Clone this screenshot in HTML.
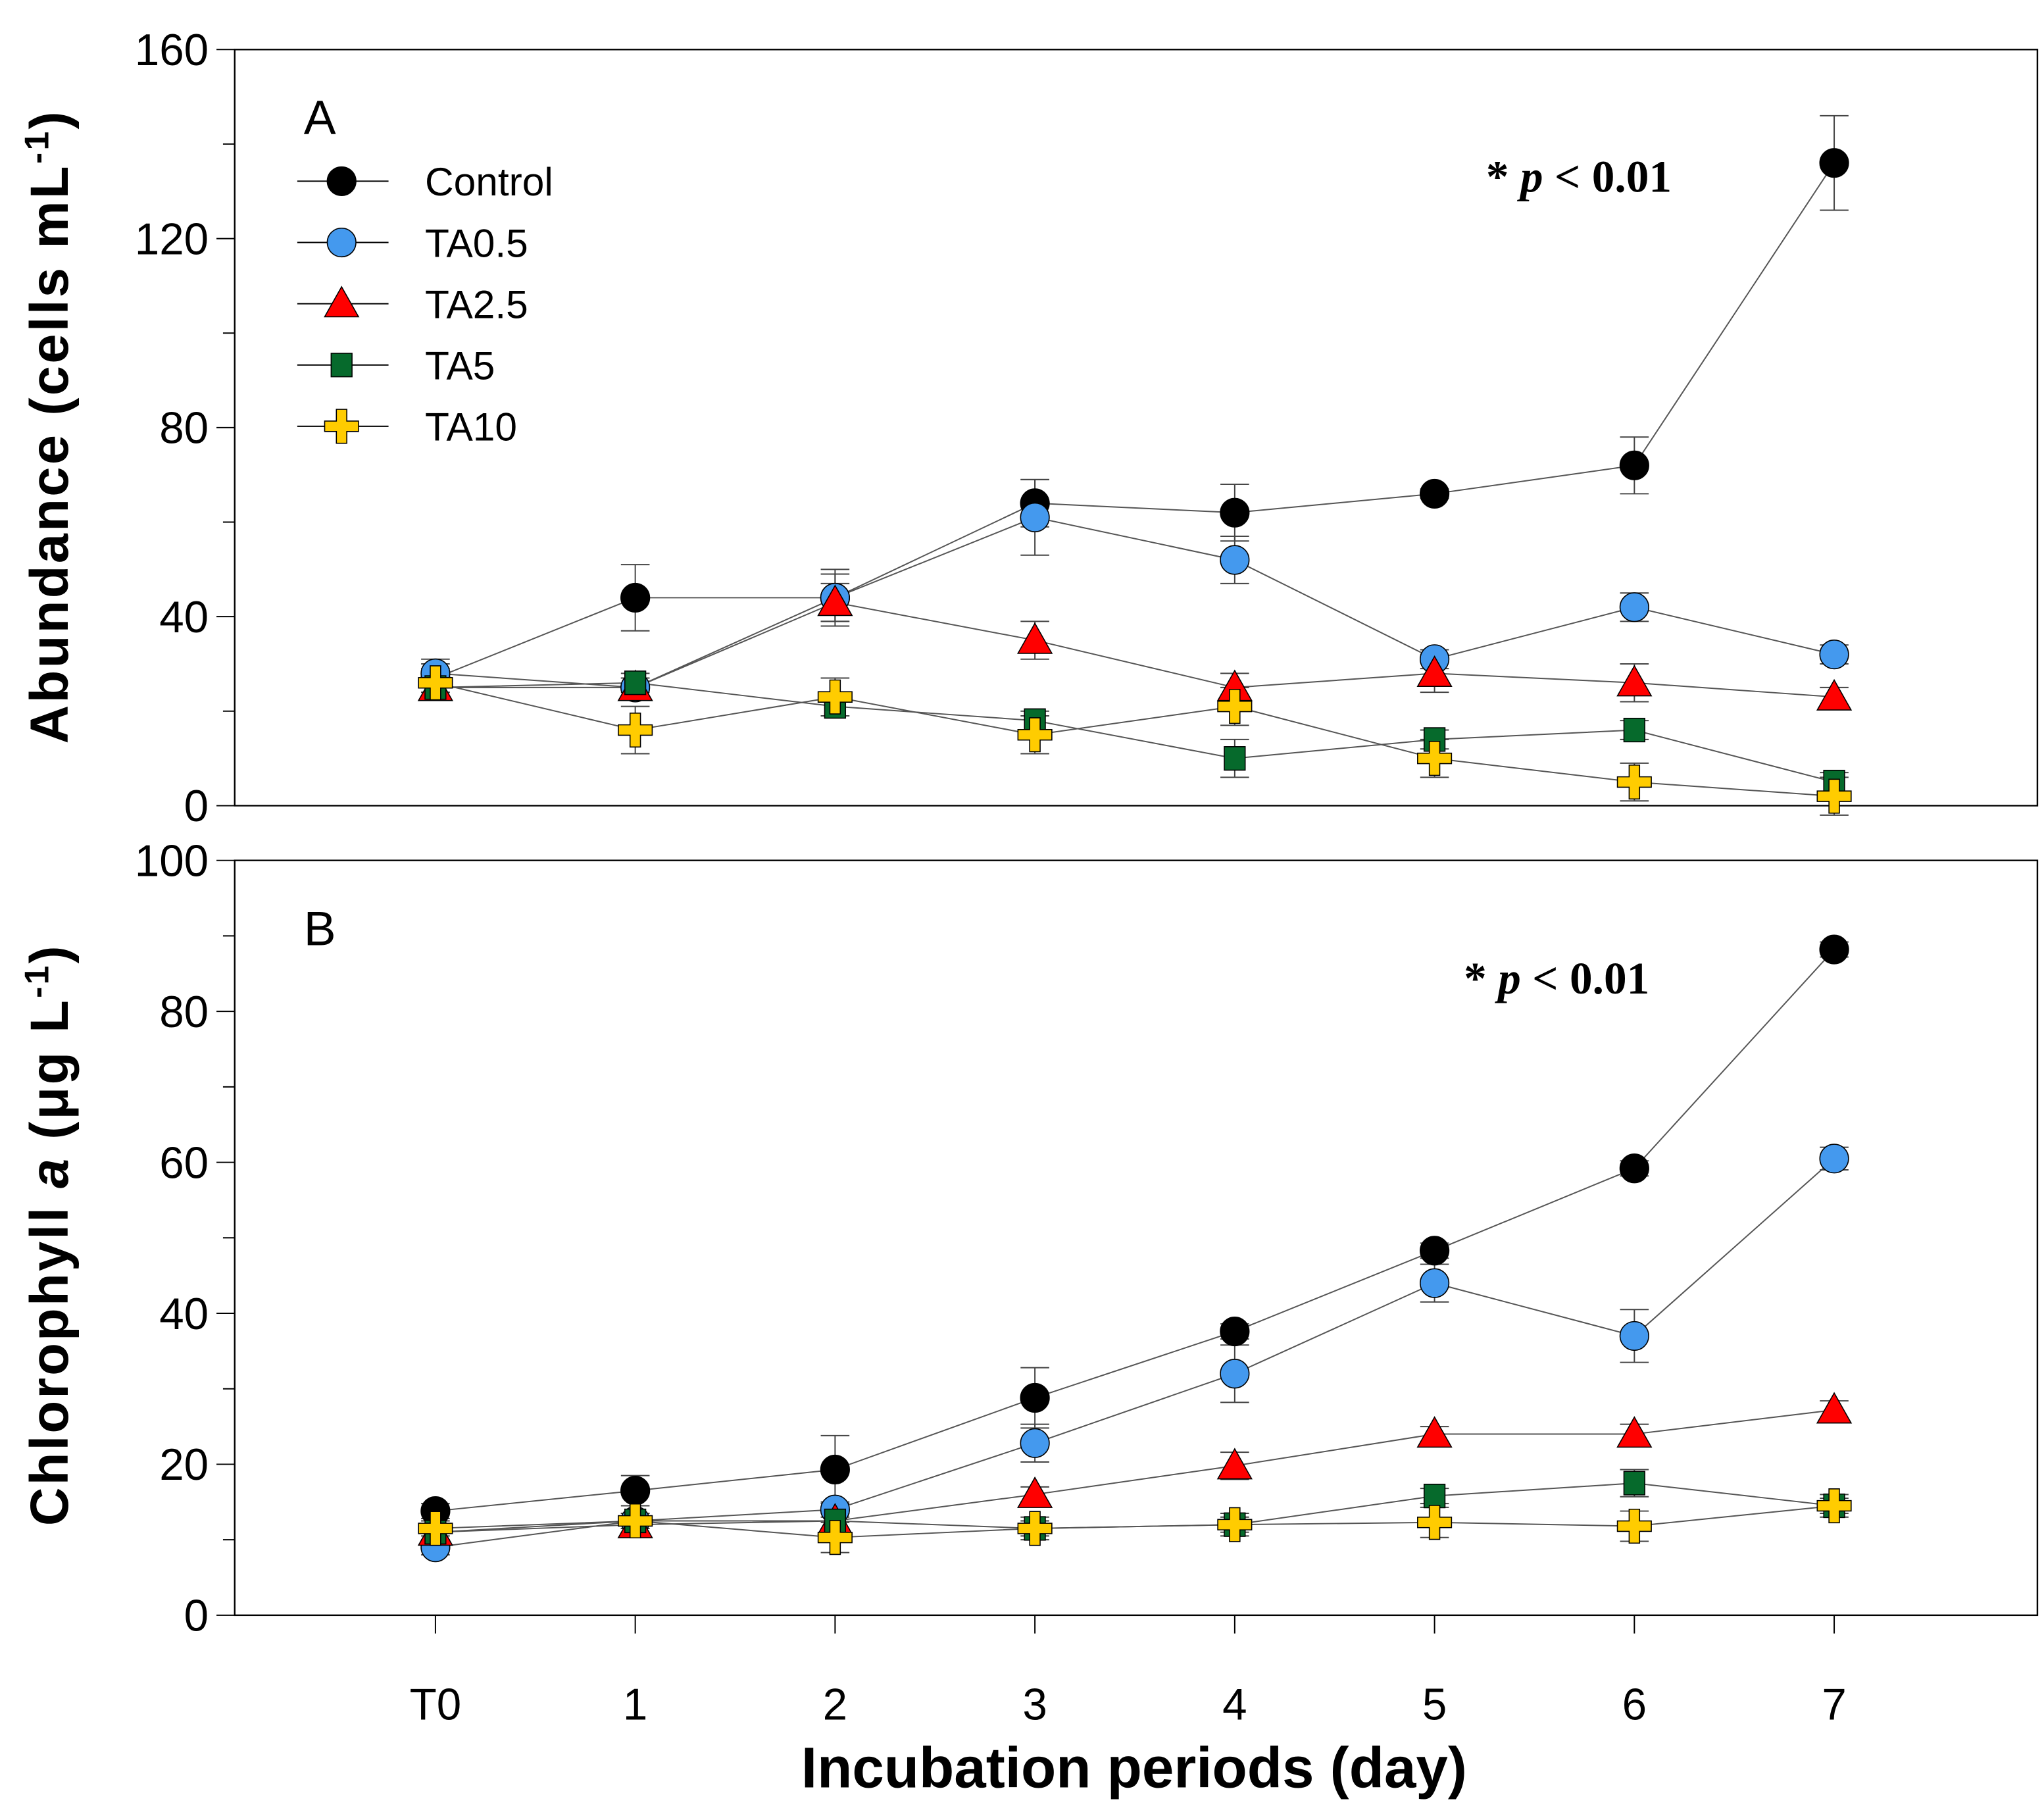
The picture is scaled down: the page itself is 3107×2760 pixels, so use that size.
<!DOCTYPE html>
<html><head><meta charset="utf-8"><style>
html,body{margin:0;padding:0;background:#fff}
svg{display:block}
text{font-family:"Liberation Sans",Arial,sans-serif;fill:#000}
text.serif{font-family:"Liberation Serif",serif}
</style></head><body>
<svg id="chart" width="3107" height="2760" viewBox="0 0 1568 1393" xmlns="http://www.w3.org/2000/svg">
<g id="root"></g>
</svg>
<script>
const categories = ["T0","1","2","3","4","5","6","7"];
const seriesNames = ["Control","TA0.5","TA2.5","TA5","TA10"];
const aControl = [27,44,44,64,62,66,72,136];
const aControlErr = [3,7,6,5,6,1,6,10];
const aTA05 = [28,25,44,61,52,31,42,32];
const aTA05Err = [3,2,5,8,5,2,3,2];
const aTA25 = [25,25,43,35,25,28,26,23];
const aTA25Err = [2,2,4,4,3,4,4,2];
const aTA5 = [25,26,21,18,10,14,16,5];
const aTA5Err = [1,2,2,2,4,2,2,2];
const aTA10 = [26,16,23,15,21,10,5,2];
const aTA10Err = [3,5,4,4,4,4,4,4];
const bControl = [13.8,16.5,19.3,28.8,37.6,48.3,59.2,88.2];
const bControlErr = [1,2,4.5,4,1,1,1,1];
const bTA05 = [9,12.5,14,22.8,32,44,37,60.5];
const bTA05Err = [1,1,1,2.5,3.8,2.5,3.5,1.5];
const bTA25 = [11,12,12.5,16,19.8,24,24,27.2];
const bTA25Err = [1,1,1,1,1.8,1,1.3,1.2];
const bTA5 = [11,12.5,12.5,11.5,12,15.8,17.5,14.5];
const bTA5Err = [1,1,1,1,1,1,1.8,1];
const bTA10 = [11.5,12.5,10.3,11.5,12,12.3,11.8,14.5];
const bTA10Err = [1,1,2,1.5,1.5,2,2,1.5];
const aTicks = [0,40,80,120,160];
const bTicks = [0,20,40,60,80,100];

const NS="http://www.w3.org/2000/svg";
const root=document.getElementById('root');
function mk(tag,attrs,parent){const e=document.createElementNS(NS,tag);for(const k in attrs)e.setAttribute(k,attrs[k]);(parent||root).appendChild(e);return e;}
const X0=180,X1=1563;
function xPos(i){return 334+i*153.3;}
const colors=["#000000","#4499ee","#ff0000","#066a2c","#ffcc00"];

function marker(kind,cx,cy,g){
  let e;
  if(kind===0||kind===1){e=mk('circle',{cx:cx,cy:cy,r:11,fill:colors[kind],stroke:'#000','stroke-width':0.8},g);}
  else if(kind===2){e=mk('polygon',{points:`${cx},${cy-13} ${cx-13},${cy+10} ${cx+13},${cy+10}`,fill:colors[2],stroke:'#000','stroke-width':0.8},g);}
  else if(kind===3){e=mk('rect',{x:cx-8,y:cy-9,width:16,height:18,fill:colors[3],stroke:'#000','stroke-width':0.8},g);}
  else {const a=4,b=13;e=mk('polygon',{points:`${cx-a},${cy-b} ${cx+a},${cy-b} ${cx+a},${cy-a} ${cx+b},${cy-a} ${cx+b},${cy+a} ${cx+a},${cy+a} ${cx+a},${cy+b} ${cx-a},${cy+b} ${cx-a},${cy+a} ${cx-b},${cy+a} ${cx-b},${cy-a} ${cx-a},${cy-a}`,fill:colors[4],stroke:'#000','stroke-width':0.8},g);}
  return e;
}

function panel(name,top,bottom,max,ticks,series,errs,letter,pY,pX,ylab,ylabY,ylabLen){
  const g=mk('g',{});
  
  
  const y=v=>bottom-(v/max)*(bottom-top);
  const fr=mk('rect',{x:X0,y:top,width:X1-X0,height:bottom-top,fill:'none',stroke:'#000','stroke-width':1.2},g);
  
  
  const step=ticks[1]-ticks[0];
  for(let v=0;v<=max;v+=step/2){
    const major=ticks.includes(v);
    mk('line',{x1:X0-(major?14:9),x2:X0,y1:y(v),y2:y(v),stroke:'#000','stroke-width':1},g);
  }
  ticks.forEach(v=>{
    const t=mk('text',{x:X0-20,y:y(v)+12,'text-anchor':'end','font-size':34},g);
    t.textContent=v;
    
    
  });
  const yl=mk('text',{x:0,y:0,transform:`translate(52,${ylabY}) rotate(-90)`,'text-anchor':'middle','font-size':41,'font-weight':'bold',textLength:ylabLen,lengthAdjust:'spacing'},g);
  yl.innerHTML=ylab;
  
  
  const L=mk('text',{x:233,y:top+65,'font-size':37},g);
  L.textContent=letter;
  
  
  const p=mk('text',{x:pX,y:pY,'font-size':35,'font-weight':'bold','class':'serif'},g);
  p.innerHTML='* <tspan font-style="italic">p</tspan> &lt; 0.01';
  
  
  series.forEach((s,k)=>{
    const sg=mk('g',{},g);
    
    
    mk('polyline',{points:s.map((v,i)=>xPos(i)+','+y(v)).join(' '),fill:'none',stroke:'#555','stroke-width':1},sg);
    s.forEach((v,i)=>{
      const e=errs[k][i],cx=xPos(i);
      mk('line',{x1:cx,x2:cx,y1:y(v+e),y2:y(v-e),stroke:'#444','stroke-width':1},sg);
      mk('line',{x1:cx-11,x2:cx+11,y1:y(v+e),y2:y(v+e),stroke:'#444','stroke-width':1},sg);
      mk('line',{x1:cx-11,x2:cx+11,y1:y(v-e),y2:y(v-e),stroke:'#444','stroke-width':1},sg);
    });
  });
  series.forEach((s,k)=>{
    s.forEach((v,i)=>{
      const m=marker(k,xPos(i),y(v),g);
      
      
    });
  });
  return y;
}

panel('panel-a',38,618,160,aTicks,[aControl,aTA05,aTA25,aTA5,aTA10],[aControlErr,aTA05Err,aTA25Err,aTA5Err,aTA10Err],'A',147,1140,'Abundance (cells mL<tspan font-size="26" dy="-15">-1</tspan><tspan dy="15">)</tspan>',328,485);
panel('panel-b',660,1239,100,bTicks,[bControl,bTA05,bTA25,bTA5,bTA10],[bControlErr,bTA05Err,bTA25Err,bTA5Err,bTA10Err],'B',762,1123,'Chlorophyll <tspan font-style="italic">a</tspan> (μg L<tspan font-size="26" dy="-15">-1</tspan><tspan dy="15">)</tspan>',948,445);

categories.forEach((c,i)=>{
  mk('line',{x1:xPos(i),x2:xPos(i),y1:1239,y2:1253,stroke:'#000','stroke-width':1});
  const t=mk('text',{x:xPos(i),y:1319,'text-anchor':'middle','font-size':34});
  t.textContent=c;
  
  
});
const xl=mk('text',{x:870,y:1371,'text-anchor':'middle','font-size':44,'font-weight':'bold'});
xl.textContent='Incubation periods (day)';



const lg=mk('g',{});


seriesNames.forEach((n,k)=>{
  const ly=139+k*47;
  const eg=mk('g',{},lg);
  
  
  mk('line',{x1:228,x2:298,y1:ly,y2:ly,stroke:'#000','stroke-width':1},eg);
  marker(k,262,ly,eg);
  const t=mk('text',{x:326,y:ly+11,'font-size':30.5},eg);
  t.textContent=n;
});
</script>
</body></html>
